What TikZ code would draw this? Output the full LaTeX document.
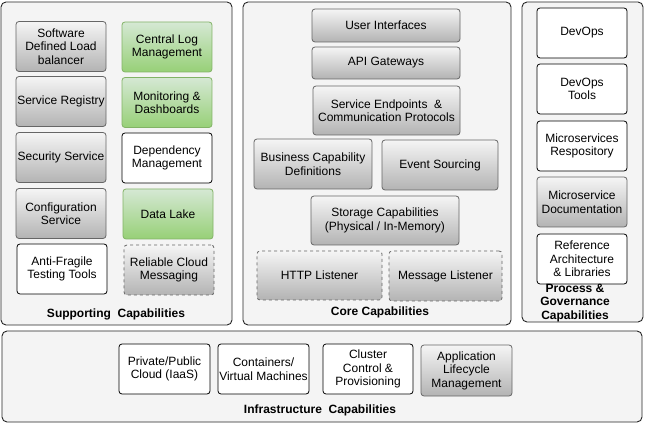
\documentclass[tikz,border=0pt]{standalone}
\usepackage{fontspec}
\setmainfont{Liberation Sans}
\usepackage{xcolor}
\definecolor{panel-gray}{gray}{0.955}
\definecolor{box-top}{HTML}{F5F5F5}
\definecolor{box-bottom}{HTML}{B3B3B3}
\definecolor{box-line}{HTML}{666666}
\definecolor{green-top}{HTML}{D5E8D4}
\definecolor{green-bottom}{HTML}{97D077}
\definecolor{green-line}{HTML}{82B366}
\usepackage{tikz}
\usetikzlibrary{backgrounds}

\begin{document}
\begin{tikzpicture}[x=1pt,y=-1pt,font=\fontsize{12}{13.5}\selectfont]
%\draw [help lines] (0,0) grid (645,435);
\tikzset{
	panel/.style={
		rectangle,
		rounded corners=5pt,
		inner sep=0pt,
		draw=black!85,
		line width=0.9pt,
		fill=panel-gray
	},
	boxA/.style={
		rectangle,
		rounded corners=3pt,
		inner sep=0pt,
		align=center,
		draw=box-line,
		line width=0.8pt,
		top color=box-top,
		bottom color=box-bottom,
		minimum width=90pt,
		minimum height=50pt
	},
	boxA1/.style={
		boxA,
		dashed
	},
	boxB/.style={
		rectangle,
		rounded corners=3pt,
		inner sep=0pt,
		align=center,
		draw=green-line,
		line width=0.8pt,
		top color=green-top,
		bottom color=green-bottom,
		minimum width=90pt,
		minimum height=50pt
	},
	boxC/.style={
		rectangle,
		rounded corners=3pt,
		inner sep=0pt,
		align=center,
		draw=black,
		line width=0.8pt,
		fill=white,
		minimum width=90pt,
		minimum height=50pt
	},
	lbl/.style={
		inner sep=0pt,
		align=center,
		font=\fontsize{12}{13.5}\selectfont\bfseries
	},
}
\useasboundingbox (0,0) rectangle (645,435);

% panels
\node (supp) [panel, minimum width=231pt, minimum height=323pt] at (116.5,163.5) {};
\node (core) [panel, minimum width=268pt, minimum height=323pt] at (377,163.5) {};
\node (proc) [panel, minimum width=121pt, minimum height=320pt] at (582.5,162) {};
\node (infra) [panel, minimum width=640pt, minimum height=91pt] at (322,376.5) {};

% supporting capabilities
\node (a1) [boxA, align=center] at (61,46.5) {Software\\ Defined Load\\ balancer};
\node (a2) [boxA, align=center] at (61,101.5) {Service Registry};
\node (a3) [boxA, align=center] at (61,157.5) {Security Service};
\node (a4) [boxA, align=center] at (61,213.5) {Configuration\\ Service};
\node (a5) [boxC, align=center] at (62,269) {Anti-Fragile\\ Testing Tools};
\node (b1) [boxB, align=center] at (167,47) {Central Log\\ Management};
\node (b2) [boxB, align=center] at (167,102.5) {Monitoring \&\\ Dashboards};
\node (b3) [boxC, align=center] at (167,158) {Dependency\\ Management};
\node (b4) [boxB, align=center] at (168,214) {Data Lake};
\node (b5) [boxA1, align=center] at (169,270) {Reliable Cloud\\ Messaging};
\node (suppT) [lbl] at (116,314) {Supporting\ \ Capabilities};

% core capabilities
\node (c1) [boxA, minimum width=148pt, minimum height=33pt] at (386,25.5) {User Interfaces};
\node (c2) [boxA, minimum width=148pt, minimum height=32pt] at (386,63) {API Gateways};
\node (c3) [boxA, minimum width=147pt, minimum height=49pt] at (386.5,110.5) {Service Endpoints\ \ \&\\ Communication Protocols};
\node (c4) [boxA, minimum width=118pt] at (313,164) {Business Capability\\ Definitions};
\node (c5) [boxA, minimum width=116pt] at (440,165) {Event Sourcing};
\node (c6) [boxA, minimum width=148pt, minimum height=49pt] at (385,220.5) {Storage Capabilities\\ (Physical / In-Memory)};
\node (c7) [boxA1, minimum width=125pt, minimum height=49pt] at (319.5,275.5) {HTTP Listener};
\node (c8) [boxA1, minimum width=113pt] at (445.5,276) {Message Listener};
\node (coreT) [lbl] at (380,312) {Core Capabilities};

% process & governance
\node (d1) [boxC, align=center] at (582,33) {DevOps};
\node (d2) [boxC, align=center] at (582,89) {DevOps\\ Tools};
\node (d3) [boxC, align=center] at (582,146) {Microservices\\ Respository};
\node (d4) [boxA, align=center] at (582,202) {Microservice\\ Documentation};
\node (d5) [boxC, align=center] at (582,259) {Reference\\ Architecture\\ \& Libraries};
\node (procT) [lbl] at (575,303) {Process \&\\ Governance\\ Capabilities};

% infrastructure
\node (e1) [boxC, minimum width=91pt] at (164.5,369) {Private/Public\\ Cloud (IaaS)};
\node (e2) [boxC, minimum width=91pt] at (263.5,369) {Containers/\\ Virtual Machines};
\node (e3) [boxC] at (368,369) {Cluster\\ Control \&\\ Provisioning};
\node (e4) [boxA, minimum width=91pt, minimum height=51pt] at (466.5,370.5) {Application\\ Lifecycle\\ Management};
\node (infraT) [lbl] at (320,410) {Infrastructure\ \ Capabilities};
\end{tikzpicture}
\end{document}
